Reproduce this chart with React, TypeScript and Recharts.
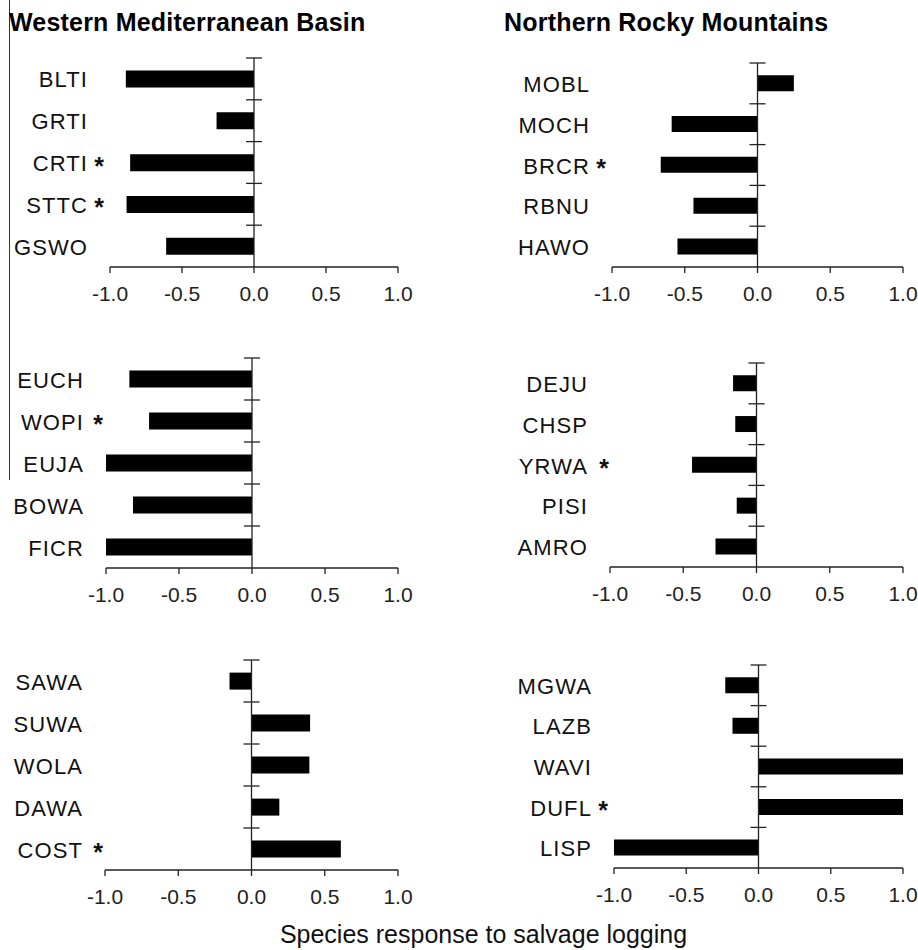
import React from 'react';
import { BarChart, Bar, XAxis, YAxis, ReferenceLine } from 'recharts';

const FONT = '"Liberation Sans", Arial, Helvetica, sans-serif';

// Western Mediterranean Basin
const wmbTopSpecies = ['BLTI', 'GRTI', 'CRTI', 'STTC', 'GSWO'];
const wmbTopValues = [-0.89, -0.26, -0.86, -0.885, -0.61];
const wmbTopSignificant = ['CRTI', 'STTC'];

const wmbMidSpecies = ['EUCH', 'WOPI', 'EUJA', 'BOWA', 'FICR'];
const wmbMidValues = [-0.84, -0.705, -1.0, -0.815, -1.0];
const wmbMidSignificant = ['WOPI'];

const wmbBotSpecies = ['SAWA', 'SUWA', 'WOLA', 'DAWA', 'COST'];
const wmbBotValues = [-0.15, 0.4, 0.395, 0.19, 0.61];
const wmbBotSignificant = ['COST'];

// Northern Rocky Mountains
const nrmTopSpecies = ['MOBL', 'MOCH', 'BRCR', 'RBNU', 'HAWO'];
const nrmTopValues = [0.25, -0.59, -0.665, -0.44, -0.55];
const nrmTopSignificant = ['BRCR'];

const nrmMidSpecies = ['DEJU', 'CHSP', 'YRWA', 'PISI', 'AMRO'];
const nrmMidValues = [-0.16, -0.145, -0.44, -0.135, -0.28];
const nrmMidSignificant = ['YRWA'];

const nrmBotSpecies = ['MGWA', 'LAZB', 'WAVI', 'DUFL', 'LISP'];
const nrmBotValues = [-0.23, -0.18, 1.0, 1.0, -1.0];
const nrmBotSignificant = ['DUFL'];

const xTicks = [-1, -0.5, 0, 0.5, 1];
const regionTitles = ['Western Mediterranean Basin', 'Northern Rocky Mountains'];
const xAxisTitle = 'Species response to salvage logging';

const AXIS = '#222';

type PanelProps = {
  species: string[];
  values: number[];
  significant: string[];
  boxLeft: number;
  boxWidth: number;
  plotLeft: number;
  plotTop: number;
  plotWidth: number;
  plotHeight: number;
  starOffset: number;
};

function Panel(p: PanelProps) {
  const data = p.species.map((s, i) => ({ species: s, value: p.values[i] }));
  const marginTop = 10;
  const xAxisHeight = 45;
  const height = marginTop + p.plotHeight + xAxisHeight;
  const right = p.boxLeft + p.boxWidth - p.plotLeft - p.plotWidth;
  const yAxisWidth = p.plotLeft - p.boxLeft;
  const sigSet = new Set(p.significant);
  const renderTick = (props: any) => {
    const { x, y, payload } = props;
    return (
      <g>
        <text x={x + 1} y={y} dy={8.5} textAnchor="end" fontSize={22} letterSpacing={1.1} fontFamily={FONT} fill="#111">
          {payload.value}
        </text>
        {sigSet.has(payload.value) && (
          <text x={x + p.starOffset} y={y} dy={12} textAnchor="middle" fontSize={25} fontWeight="bold" fontFamily={FONT} fill="#111">
            *
          </text>
        )}
      </g>
    );
  };
  return (
    <div style={{ position: 'absolute', left: p.boxLeft, top: p.plotTop - marginTop }}>
      <BarChart
        width={p.boxWidth}
        height={height}
        data={data}
        layout="vertical"
        margin={{ top: marginTop, right, bottom: 0, left: 0 }}
        barCategoryGap="30%"
      >
        <XAxis
          type="number"
          domain={[-1, 1]}
          ticks={xTicks}
          allowDataOverflow
          interval={0}
          tickFormatter={(v: number) => v.toFixed(1)}
          height={xAxisHeight}
          axisLine={{ stroke: AXIS, strokeWidth: 1.3 }}
          tickLine={{ stroke: AXIS, strokeWidth: 1.3 }}
          tickSize={6}
          tickMargin={13}
          tick={{ fontSize: 21, fontFamily: FONT, fill: '#222' }}
        />
        <YAxis
          type="category"
          dataKey="species"
          width={yAxisWidth}
          axisLine={false}
          tickLine={false}
          tickSize={0}
          tickMargin={23}
          interval={0}
          tick={renderTick}
        />
        <Bar dataKey="value" fill="#000" isAnimationActive={false} />
        <ReferenceLine x={0} stroke={AXIS} strokeWidth={1.3} />
        {p.species.map((s) => (
          <ReferenceLine
            key={s}
            segment={[{ x: -0.055, y: s }, { x: 0.055, y: s }]}
            position="start"
            stroke={AXIS}
            strokeWidth={1.3}
          />
        ))}
      </BarChart>
    </div>
  );
}

export default function App() {
  return (
    <div style={{ position: 'relative', width: 918, height: 950, background: '#fff', overflow: 'hidden' }}>
      <style>{'body{margin:0;}'}</style>
      <Panel species={wmbTopSpecies} values={wmbTopValues} significant={wmbTopSignificant}
        boxLeft={0} boxWidth={460} plotLeft={110} plotTop={58} plotWidth={288} plotHeight={209} starOffset={12} />
      <Panel species={nrmTopSpecies} values={nrmTopValues} significant={nrmTopSignificant}
        boxLeft={460} boxWidth={458} plotLeft={612} plotTop={63} plotWidth={291} plotHeight={204} starOffset={12} />
      <Panel species={wmbMidSpecies} values={wmbMidValues} significant={wmbMidSignificant}
        boxLeft={0} boxWidth={460} plotLeft={106} plotTop={358} plotWidth={292} plotHeight={210} starOffset={15} />
      <Panel species={nrmMidSpecies} values={nrmMidValues} significant={nrmMidSignificant}
        boxLeft={460} boxWidth={458} plotLeft={610} plotTop={363} plotWidth={293} plotHeight={204} starOffset={17} />
      <Panel species={wmbBotSpecies} values={wmbBotValues} significant={wmbBotSignificant}
        boxLeft={0} boxWidth={460} plotLeft={105} plotTop={660} plotWidth={293} plotHeight={210} starOffset={16} />
      <Panel species={nrmBotSpecies} values={nrmBotValues} significant={nrmBotSignificant}
        boxLeft={460} boxWidth={458} plotLeft={614} plotTop={665} plotWidth={289} plotHeight={203} starOffset={12} />
      <svg width={918} height={950} style={{ position: 'absolute', left: 0, top: 0, pointerEvents: 'none' }}>
        <line x1={9.5} y1={0} x2={9.5} y2={480} stroke="#333" strokeWidth={1} />
        <text x={9} y={30.5} fontSize={25} letterSpacing={0.2} fontWeight="bold" fontFamily={FONT} fill="#000">
          {regionTitles[0]}
        </text>
        <text x={504} y={30.5} fontSize={25} letterSpacing={0.2} fontWeight="bold" fontFamily={FONT} fill="#000">
          {regionTitles[1]}
        </text>
        <text x={483.5} y={943} fontSize={25} textAnchor="middle" fontFamily={FONT} fill="#111">
          {xAxisTitle}
        </text>
      </svg>
    </div>
  );
}
